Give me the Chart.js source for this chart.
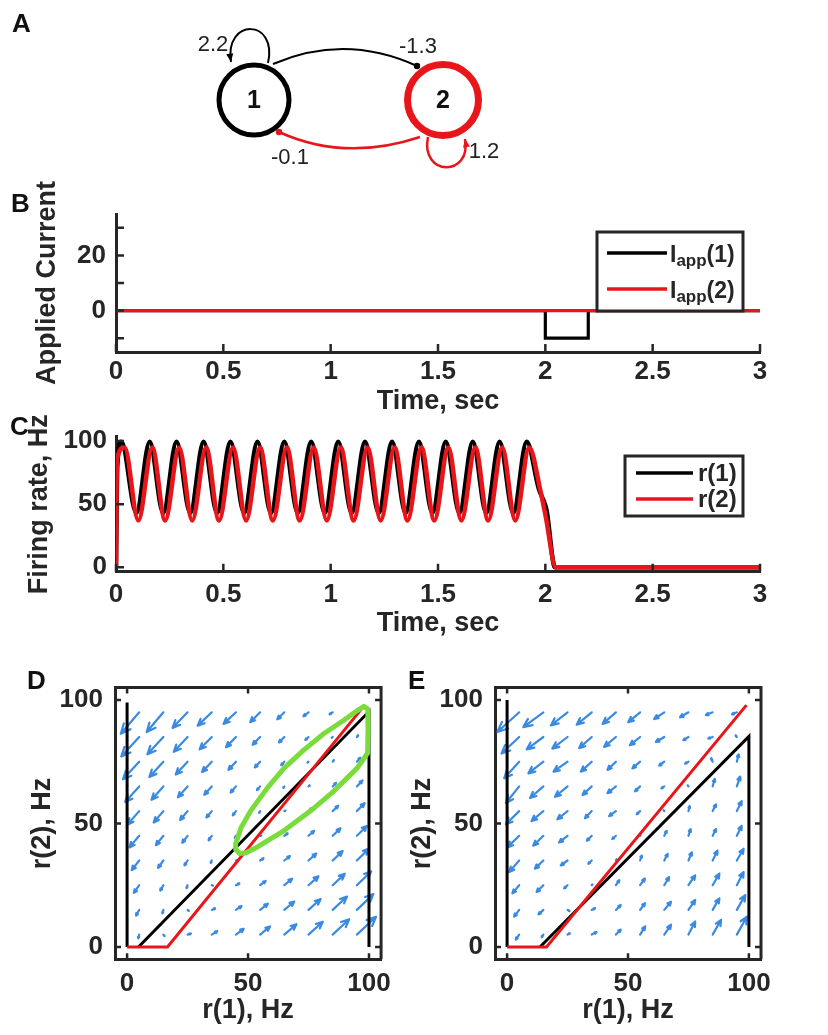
<!DOCTYPE html>
<html>
<head>
<meta charset="utf-8">
<title>Two-unit firing rate model</title>
<script src="https://cdn.jsdelivr.net/npm/chart.js@4.4.1/dist/chart.umd.min.js"></script>
<style>
  html, body { margin: 0; padding: 0; background: #fff; }
  #page { position: relative; width: 828px; height: 1035px; overflow: hidden; font-family: "Liberation Sans", Arial, sans-serif; }
  canvas { position: absolute; }
  .panel { position: absolute; font-size: 26px; line-height: 26px; font-weight: bold; color: #111; }
</style>
</head>
<body>
<div id="page">
  <canvas id="chartA" width="828" height="185" style="left:0;top:0"></canvas>
  <canvas id="chartB" width="828" height="260" style="left:0;top:170px"></canvas>
  <canvas id="chartC" width="828" height="255" style="left:0;top:395px"></canvas>
  <canvas id="chartD" width="400" height="375" style="left:0;top:660px"></canvas>
  <canvas id="chartE" width="448" height="375" style="left:380px;top:660px"></canvas>
  <div class="panel" style="left:12px;top:10px">A</div>
  <div class="panel" style="left:11px;top:190px">B</div>
  <div class="panel" style="left:10px;top:413px">C</div>
  <div class="panel" style="left:27px;top:667px">D</div>
  <div class="panel" style="left:408px;top:667px">E</div>
</div>
<script>
// ---- A: network ----
var nodeX = [254, 443];
var nodeY = [100, 100];
var nodeLabels = ['1', '2'];
var weights = [2.2, -1.3, -0.1, 1.2];   // 1->1, 1->2, 2->1, 2->2

// ---- B: applied current ----
var iappTime1 = [0, 2.0, 2.0, 2.2, 2.2, 3.0];
var iappVal1  = [0, 0, -10, -10, 0, 0];
var iappTime2 = [0, 3.0];
var iappVal2  = [0, 0];
var bTicksY = [-10, 0, 10, 20, 30];
var bLabelsY = [0, 20];
var timeTicks = [0, 0.5, 1, 1.5, 2, 2.5, 3];

// ---- C: firing rates ----
var r1Time = [0, 0.006, 0.025, 0.095, 0.157, 0.220, 0.282, 0.346, 0.408, 0.471, 0.533, 0.597, 0.659,
  0.722, 0.784, 0.847, 0.909, 0.973, 1.035, 1.098, 1.160, 1.224, 1.286, 1.349, 1.411, 1.474, 1.536,
  1.600, 1.662, 1.725, 1.787, 1.851, 1.913, 1.970, 1.998, 2.006, 2.045, 3.0];
var r1Rate = [0, 80, 99.5, 43, 99.5, 43, 99.5, 43, 99.5, 43, 99.5, 43, 99.5,
  43, 99.5, 43, 99.5, 43, 99.5, 43, 99.5, 43, 99.5, 43, 99.5, 43, 99.5,
  43, 99.5, 43, 99.5, 43, 99.5, 62, 50, 45, 0, 0];
var r2Time = [0, 0.004, 0.040, 0.104, 0.169, 0.229, 0.294, 0.355, 0.420, 0.480, 0.545, 0.606, 0.671,
  0.731, 0.796, 0.856, 0.921, 0.982, 1.047, 1.107, 1.172, 1.233, 1.298, 1.358, 1.423, 1.483, 1.548,
  1.609, 1.674, 1.734, 1.799, 1.860, 1.925, 1.978, 2.002, 2.049, 3.0];
var r2Rate = [0, 85, 95, 37, 95, 37, 95, 37, 95, 37, 95, 37, 95,
  37, 95, 37, 95, 37, 95, 37, 95, 37, 95, 37, 95, 37, 95,
  37, 95, 37, 95, 37, 95, 60, 40, 0, 0];
var rateTicks = [0, 50, 100];

// ---- D, E: phase planes ----
var phaseTicks = [0, 50, 100];
var gridR1 = [5, 15, 25, 35, 45, 55, 65, 75, 85, 95];
var gridR2 = [95, 85, 75, 65, 55, 45, 35, 25, 15, 5];

var dU = [
  [-7.6, -6.9, -6.2, -5.8, -5.1, -4.1, -2.9, -2.1, -1.3, -0.4],
  [-7.4, -6.6, -5.7, -5.0, -4.1, -3.1, -2.2, -1.3, -0.4,  0.5],
  [-6.7, -5.8, -4.9, -4.0, -3.1, -2.2, -1.3, -0.4,  0.5,  1.4],
  [-5.8, -4.9, -4.0, -3.1, -2.2, -1.3, -0.4,  0.5,  1.4,  2.3],
  [-4.9, -4.0, -3.1, -2.2, -1.3, -0.4,  0.5,  1.4,  2.3,  3.2],
  [-4.0, -3.1, -2.2, -1.3, -0.4,  0.5,  1.4,  2.3,  3.2,  4.1],
  [-3.1, -2.2, -1.3, -0.4,  0.5,  1.4,  2.3,  3.2,  4.1,  5.0],
  [-2.2, -1.3, -0.4,  0.5,  1.4,  2.3,  3.2,  4.1,  5.0,  5.9],
  [-1.3, -0.4,  0.5,  1.4,  2.3,  3.2,  4.1,  5.0,  5.9,  6.8],
  [-0.4,  0.5,  1.4,  2.3,  3.2,  4.1,  5.0,  5.9,  6.8,  7.9]
];
var dV = [
  [-8.7, -8.0, -6.3, -5.4, -4.7, -4.0, -2.8, -1.6, -0.8, -0.1],
  [-7.9, -7.0, -6.0, -5.0, -4.1, -3.1, -2.2, -1.2, -0.3,  0.7],
  [-7.1, -6.2, -5.2, -4.2, -3.3, -2.3, -1.4, -0.4,  0.6,  1.6],
  [-6.3, -5.4, -4.4, -3.4, -2.5, -1.5, -0.6,  0.4,  1.4,  2.4],
  [-5.5, -4.6, -3.6, -2.6, -1.7, -0.7,  0.2,  1.2,  2.2,  3.2],
  [-4.7, -3.8, -2.8, -1.8, -0.9,  0.1,  1.0,  2.0,  3.0,  4.0],
  [-3.9, -3.0, -2.0, -1.0, -0.1,  0.9,  1.8,  2.8,  3.8,  4.8],
  [-3.1, -2.2, -1.2, -0.2,  0.7,  1.7,  2.6,  3.6,  4.6,  5.6],
  [-2.3, -1.4, -0.4,  0.6,  1.5,  2.5,  3.4,  4.4,  5.4,  6.4],
  [-1.5, -0.6,  0.4,  1.4,  2.3,  3.3,  4.2,  5.2,  6.2,  7.2]
];
var dBlackLeftX = [0, 0],        dBlackLeftY = [0, 99];
var dBlackX = [4.7, 100, 100],   dBlackY = [0, 95.3, 0];
var dRedX = [0, 16.7, 98.3],     dRedY = [0, 0, 98];
var dCycleX = [44.9, 47.2, 51.1, 58.0, 64.9, 73.1, 81.4, 89.6, 95.0, 97.9, 99.5, 99.6, 99.4,
  95.1, 85.5, 75.9, 64.9, 53.9, 49.0, 46.5, 45.0, 44.9];
var dCycleY = [41.8, 48.5, 55.1, 64.4, 72.4, 79.8, 86.4, 91.8, 95.6, 97.4, 96.3, 88.0, 78.4,
  72.4, 63.1, 55.1, 47.1, 40.5, 38.0, 37.8, 39.5, 41.8];

var eU = [
  [-9.0, -8.3, -6.9, -6.2, -5.5, -4.9, -4.2, -3.5, -2.8, -2.0],
  [-7.3, -6.9, -6.3, -5.2, -4.9, -4.2, -3.5, -2.1, -1.8, -0.5],
  [-6.2, -6.2, -5.8, -4.5, -3.5, -3.2, -2.1, -1.4, -0.6,  0.8],
  [-5.5, -5.5, -5.2, -3.8, -3.5, -2.1, -1.2, -0.3,  0.9,  1.4],
  [-5.5, -4.9, -4.2, -2.8, -2.8, -1.4, -0.3,  0.5,  1.4,  2.0],
  [-4.9, -4.2, -3.5, -2.0, -1.5,  0.2,  1.0,  0.9,  1.4,  2.0],
  [-4.2, -3.5, -2.8, -1.4,  0.3,  0.7,  1.4,  1.4,  2.0,  2.8],
  [-2.8, -2.8, -1.4,  0.3,  1.4,  2.0,  2.0,  2.8,  2.8,  2.8],
  [-2.1, -2.0,  0.8,  1.4,  2.0,  2.0,  2.8,  2.8,  2.8,  3.5],
  [-1.4, -0.7,  1.0,  2.0,  2.0,  2.1,  2.8,  2.8,  3.5,  4.2]
];
var eV = [
  [-8.0, -6.0, -5.3, -5.0, -4.7, -4.0, -2.7, -2.0, -1.1, -0.8],
  [-6.7, -5.0, -4.7, -4.5, -4.0, -3.3, -2.0, -1.3, -0.6,  0.6],
  [-6.7, -4.7, -4.0, -4.0, -3.3, -2.7, -1.6, -0.8,  1.4,  3.0],
  [-6.7, -4.7, -4.2, -3.5, -2.7, -2.0, -0.8,  0.4,  3.0,  4.0],
  [-5.3, -4.0, -3.3, -2.9, -2.0, -1.3,  0.4,  2.0,  2.7,  4.0],
  [-4.7, -4.0, -2.7, -2.0, -1.3,  0.3,  2.0,  2.7,  2.7,  4.0],
  [-4.7, -3.3, -2.0, -1.3,  0.5,  2.0,  2.7,  3.3,  4.0,  4.7],
  [-3.3, -2.7, -1.3,  0.3,  2.0,  2.7,  3.3,  4.0,  4.7,  5.3],
  [-2.7, -1.8, -0.5,  0.7,  2.0,  2.7,  3.3,  4.0,  4.7,  6.0],
  [-2.0, -1.0,  0.5,  1.0,  2.0,  3.3,  4.0,  5.3,  6.0,  7.3]
];
var eBlackLeftX = [0, 0],        eBlackLeftY = [0, 100];
var eBlackX = [13.6, 100, 100],  eBlackY = [0, 85.2, 0];
var eRedX = [0, 16.3, 99],       eRedY = [0, 0, 97.9];

// ---- styling ----
var INK = '#262626';
var RED = '#e8161b';
var GREEN = '#79dc3a';
var BLUE = '#3a8ae1';
var FONT = '"Liberation Sans", Arial, Helvetica, sans-serif';
var tickFont = { family: FONT, size: 26, weight: 'bold' };
var titleFont = { family: FONT, size: 27, weight: 'bold' };

function pts(xs, ys) {
  return xs.map(function (x, i) { return { x: x, y: ys[i] }; });
}

function lineSet(xs, ys, color, width, order, extra) {
  return Object.assign({
    data: pts(xs, ys), showLine: true, pointRadius: 0, pointHoverRadius: 0,
    borderColor: color, borderWidth: width, fill: false, tension: 0, order: order,
    borderCapStyle: 'butt', borderJoinStyle: 'miter'
  }, extra || {});
}

function axis(pos, min, max, tickVals, title, tickPad, titlePad, size, cb) {
  return {
    type: 'linear', position: pos, min: min, max: max,
    grid: { display: false, drawTicks: false },
    border: { display: true, color: INK, width: 3 },
    afterBuildTicks: function (s) { s.ticks = tickVals.map(function (v) { return { value: v }; }); },
    ticks: { autoSkip: false, maxRotation: 0, padding: tickPad, color: INK, font: tickFont,
             callback: cb || function (v) { return String(v); } },
    title: { display: true, text: title, color: INK, font: titleFont,
             padding: pos === 'left' ? { top: titlePad, bottom: 0 } : { top: 0, bottom: titlePad } },
    afterFit: function (s) { if (pos === 'left') s.width = size; else s.height = size; }
  };
}

// inward tick marks (and the full box for the phase planes)
function makeFrame(len, box) {
  return {
    id: 'frame',
    afterDraw: function (chart) {
      var ctx = chart.ctx, a = chart.chartArea, xs = chart.scales.x, ys = chart.scales.y;
      ctx.save();
      ctx.strokeStyle = INK;
      ctx.lineWidth = 2.5;
      ctx.beginPath();
      xs.ticks.forEach(function (t) {
        var p = xs.getPixelForValue(t.value);
        ctx.moveTo(p, a.bottom); ctx.lineTo(p, a.bottom - len);
        if (box) { ctx.moveTo(p, a.top); ctx.lineTo(p, a.top + len); }
      });
      ys.ticks.forEach(function (t) {
        var p = ys.getPixelForValue(t.value);
        ctx.moveTo(a.left, p); ctx.lineTo(a.left + len, p);
        if (box) { ctx.moveTo(a.right, p); ctx.lineTo(a.right - len, p); }
      });
      ctx.stroke();
      if (box) {
        ctx.lineWidth = 3;
        ctx.beginPath();
        ctx.moveTo(a.left, a.top); ctx.lineTo(a.right, a.top); ctx.lineTo(a.right, a.bottom);
        ctx.stroke();
      }
      ctx.restore();
    }
  };
}

// boxed legend with optional subscripts
function makeLegend(cfg) {
  return {
    id: 'boxLegend',
    afterDraw: function (chart) {
      var ctx = chart.ctx, a = chart.chartArea;
      var x0 = a.right - cfg.dx, y0 = a.top + cfg.dy;
      ctx.save();
      ctx.fillStyle = '#fff';
      ctx.fillRect(x0, y0, cfg.w, cfg.h);
      ctx.strokeStyle = INK; ctx.lineWidth = 3;
      ctx.strokeRect(x0, y0, cfg.w, cfg.h);
      cfg.items.forEach(function (it, k) {
        var y = y0 + cfg.row0 + k * cfg.gap;
        ctx.strokeStyle = it.color; ctx.lineWidth = 3.5;
        ctx.beginPath(); ctx.moveTo(x0 + cfg.l0, y); ctx.lineTo(x0 + cfg.l1, y); ctx.stroke();
        var x = x0 + cfg.tx;
        ctx.fillStyle = INK; ctx.textAlign = 'left'; ctx.textBaseline = 'alphabetic';
        it.parts.forEach(function (p) {
          ctx.font = 'bold ' + p.size + 'px ' + FONT;
          ctx.fillText(p.t, x, y + cfg.base + (p.dy || 0));
          x += ctx.measureText(p.t).width;
        });
      });
      ctx.restore();
    }
  };
}

// direction field drawn from the grid tables through the chart scales
function makeQuiver(cols, rows, U, V) {
  return {
    id: 'quiver',
    beforeDatasetsDraw: function (chart) {
      var ctx = chart.ctx, xs = chart.scales.x, ys = chart.scales.y;
      ctx.save();
      ctx.strokeStyle = BLUE; ctx.lineWidth = 2.2; ctx.lineCap = 'round'; ctx.lineJoin = 'round';
      rows.forEach(function (r2, j) {
        cols.forEach(function (r1, i) {
          var x0 = xs.getPixelForValue(r1), y0 = ys.getPixelForValue(r2);
          var x1 = xs.getPixelForValue(r1 + U[j][i]), y1 = ys.getPixelForValue(r2 + V[j][i]);
          var dx = x1 - x0, dy = y1 - y0, L = Math.sqrt(dx * dx + dy * dy);
          if (L < 0.6) return;
          var h = 0.38 * L, ang = Math.atan2(dy, dx);
          ctx.beginPath();
          ctx.moveTo(x0, y0); ctx.lineTo(x1, y1);
          ctx.moveTo(x1 - h * Math.cos(ang - 0.42), y1 - h * Math.sin(ang - 0.42));
          ctx.lineTo(x1, y1);
          ctx.lineTo(x1 - h * Math.cos(ang + 0.42), y1 - h * Math.sin(ang + 0.42));
          ctx.stroke();
        });
      });
      ctx.restore();
    }
  };
}

var baseOptions = function (pad) {
  return {
    responsive: false, animation: false, events: [],
    layout: { padding: pad, autoPadding: false },
    plugins: { legend: { display: false }, tooltip: { enabled: false } }
  };
};

// ---------- Panel A ----------
var EDGES = [
  { color: '#000', w: 2,   p: [[268, 63], [278, 18], [224, 18], [231, 62]], end: 'arrow', lab: [213, 45] },
  { color: '#000', w: 2,   p: [[273, 64], [345, 33], [417, 66]],            end: 'dot',   lab: [418, 47] },
  { color: RED,    w: 2.5, p: [[420, 137], [345, 162], [279, 132]],         end: 'dot',   lab: [290, 158] },
  { color: RED,    w: 2.5, p: [[428, 137], [420, 177], [472, 177], [465, 139]], end: 'arrow', lab: [484, 152] }
];

var diagram = {
  id: 'diagram',
  beforeDatasetsDraw: function (chart) {
    var ctx = chart.ctx, sx = chart.scales.x, sy = chart.scales.y;
    function X(v) { return sx.getPixelForValue(v); }
    function Y(v) { return sy.getPixelForValue(v); }
    ctx.save();
    EDGES.forEach(function (e) {
      var p = e.p, n = p.length;
      ctx.strokeStyle = e.color; ctx.fillStyle = e.color; ctx.lineWidth = e.w;
      ctx.beginPath();
      ctx.moveTo(X(p[0][0]), Y(p[0][1]));
      if (n === 3) ctx.quadraticCurveTo(X(p[1][0]), Y(p[1][1]), X(p[2][0]), Y(p[2][1]));
      else ctx.bezierCurveTo(X(p[1][0]), Y(p[1][1]), X(p[2][0]), Y(p[2][1]), X(p[3][0]), Y(p[3][1]));
      ctx.stroke();
      var ex = X(p[n - 1][0]), ey = Y(p[n - 1][1]);
      if (e.end === 'dot') {
        ctx.beginPath(); ctx.arc(ex, ey, 3.2, 0, Math.PI * 2); ctx.fill();
      } else {
        var ang = Math.atan2(ey - Y(p[n - 2][1]), ex - X(p[n - 2][0]));
        ctx.beginPath();
        ctx.moveTo(ex, ey);
        ctx.lineTo(ex - 9 * Math.cos(ang - 0.4), ey - 9 * Math.sin(ang - 0.4));
        ctx.lineTo(ex - 9 * Math.cos(ang + 0.4), ey - 9 * Math.sin(ang + 0.4));
        ctx.closePath(); ctx.fill();
      }
    });
    ctx.restore();
  },
  afterDatasetsDraw: function (chart) {
    var ctx = chart.ctx, sx = chart.scales.x, sy = chart.scales.y;
    ctx.save();
    ctx.textAlign = 'center'; ctx.textBaseline = 'middle'; ctx.fillStyle = '#111';
    ctx.font = 'bold 25px ' + FONT;
    nodeLabels.forEach(function (t, i) {
      ctx.fillText(t, sx.getPixelForValue(nodeX[i]), sy.getPixelForValue(nodeY[i]) + 1);
    });
    ctx.font = '22px ' + FONT; ctx.fillStyle = '#222';
    weights.forEach(function (w, i) {
      ctx.fillText(String(w), sx.getPixelForValue(EDGES[i].lab[0]), sy.getPixelForValue(EDGES[i].lab[1]));
    });
    ctx.restore();
  }
};

var optA = baseOptions(0);
optA.scales = {
  x: { type: 'linear', min: 0, max: 828, display: false },
  y: { type: 'linear', min: 0, max: 185, reverse: true, display: false }
};
new Chart(document.getElementById('chartA'), {
  type: 'scatter',
  data: { datasets: [{
    data: pts(nodeX, nodeY), showLine: false,
    pointRadius: [35, 35.5], pointHoverRadius: [35, 35.5],
    pointBorderWidth: [5, 7], pointBorderColor: ['#000', RED], pointBackgroundColor: '#fff', clip: false
  }] },
  options: optA,
  plugins: [diagram]
});

// ---------- Panel B ----------
var optB = baseOptions({ top: 44, right: 68, bottom: 0, left: 0 });
optB.scales = {
  x: axis('bottom', 0, 3, timeTicks, 'Time, sec', 4.5, 11.8, 78),
  y: axis('left', -15, 35, bTicksY, 'Applied Current', 10, 31.8, 116,
          function (v) { return bLabelsY.indexOf(v) >= 0 ? String(v) : ''; })
};
new Chart(document.getElementById('chartB'), {
  type: 'scatter',
  data: { datasets: [
    lineSet(iappTime2, iappVal2, RED, 3.2, 0),
    lineSet(iappTime1, iappVal1, '#000', 3.2, 1)
  ] },
  options: optB,
  plugins: [makeFrame(8, false), makeLegend({
    dx: 163, dy: 18, w: 146, h: 79, row0: 21, gap: 36, l0: 10, l1: 70, tx: 73, base: 8.5,
    items: [
      { color: '#000', parts: [{ t: 'I', size: 23 }, { t: 'app', size: 17, dy: 4 }, { t: '(1)', size: 23 }] },
      { color: RED,    parts: [{ t: 'I', size: 23 }, { t: 'app', size: 17, dy: 4 }, { t: '(2)', size: 23 }] }
    ]
  })]
});

// ---------- Panel C ----------
var optC = baseOptions({ top: 41.7, right: 68, bottom: 0, left: 0 });
optC.scales = {
  x: axis('bottom', 0, 3, timeTicks, 'Time, sec', 8, 9.8, 78.3),
  y: axis('left', -3.5, 103.5, rateTicks, 'Firing rate, Hz', 9, 23.8, 116)
};
new Chart(document.getElementById('chartC'), {
  type: 'scatter',
  data: { datasets: [
    lineSet(r2Time, r2Rate, RED, 4.5, 0, { cubicInterpolationMode: 'monotone', borderJoinStyle: 'round' }),
    lineSet(r1Time, r1Rate, '#000', 4.5, 1, { cubicInterpolationMode: 'monotone', borderJoinStyle: 'round' })
  ] },
  options: optC,
  plugins: [makeFrame(8, false), makeLegend({
    dx: 135, dy: 19.3, w: 118, h: 60, row0: 17, gap: 26, l0: 11, l1: 68, tx: 73, base: 7.5,
    items: [
      { color: '#000', parts: [{ t: 'r(1)', size: 24 }] },
      { color: RED,    parts: [{ t: 'r(2)', size: 24 }] }
    ]
  })]
});

// ---------- Panels D and E ----------
function phaseChart(id, padRight, U, V, sets) {
  var opt = baseOptions({ top: 24, right: padRight, bottom: 0, left: 0 });
  opt.scales = {
    x: axis('bottom', -5, 105, phaseTicks, 'r(1), Hz', 8.5, 7.8, 75.7),
    y: axis('left', -5, 105, phaseTicks, 'r(2), Hz', 12, 26.8, 115)
  };
  return new Chart(document.getElementById(id), {
    type: 'scatter',
    data: { datasets: sets },
    options: opt,
    plugins: [makeQuiver(gridR1, gridR2, U, V), makeFrame(6, true)]
  });
}

phaseChart('chartD', 18.3, dU, dV, [
  lineSet(dCycleX, dCycleY, GREEN, 5, 0, { borderJoinStyle: 'round', borderCapStyle: 'round' }),
  lineSet(dRedX, dRedY, RED, 3, 1),
  lineSet(dBlackX, dBlackY, '#000', 3, 2),
  lineSet(dBlackLeftX, dBlackLeftY, '#000', 3, 2)
]);

phaseChart('chartE', 67, eU, eV, [
  lineSet(eRedX, eRedY, RED, 3, 1),
  lineSet(eBlackX, eBlackY, '#000', 3, 2),
  lineSet(eBlackLeftX, eBlackLeftY, '#000', 3, 2)
]);
</script>
</body>
</html>
